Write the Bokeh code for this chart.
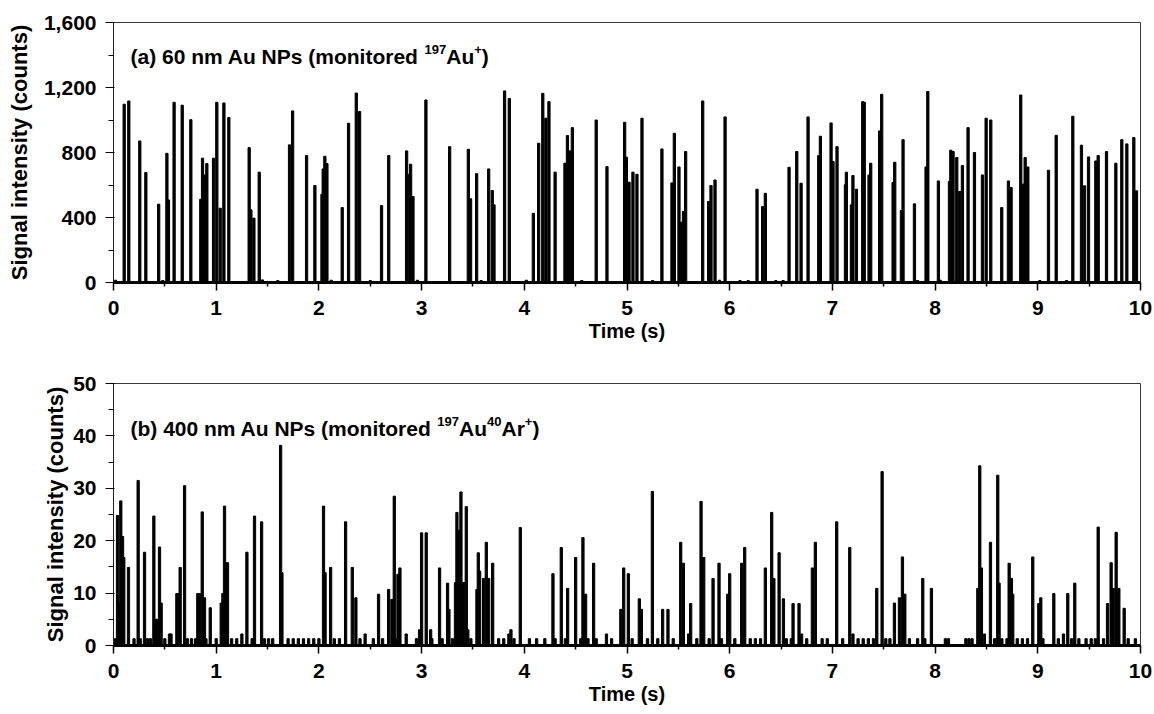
from bokeh.plotting import figure
from bokeh.layouts import column
from bokeh.models import FixedTicker, NumeralTickFormatter, Label
from bokeh.embed import file_html
from bokeh.resources import INLINE

# ---------------- data ----------------
# Panel (a): 60 nm Au NPs, monitored 197Au+
a_time = [0.104, 0.149, 0.256, 0.315, 0.440, 0.520, 0.535, 0.590, 0.669, 0.753,
          0.850, 0.867, 0.886, 0.909, 0.974, 1.006, 1.039, 1.075, 1.123, 1.321,
          1.338, 1.367, 1.419, 1.714, 1.744, 1.880, 1.961, 2.030, 2.042, 2.058,
          2.078, 2.227, 2.289, 2.364, 2.396, 2.610, 2.680, 2.854, 2.880, 2.893,
          2.916, 3.042, 3.273, 3.455, 3.477, 3.536, 3.653, 3.688, 3.705, 3.808,
          3.854, 4.088, 4.140, 4.180, 4.210, 4.240, 4.300, 4.396, 4.420, 4.445,
          4.468, 4.700, 4.805, 4.977, 4.994, 5.020, 5.058, 5.097, 5.146, 5.340,
          5.438, 5.461, 5.506, 5.526, 5.550, 5.571, 5.737, 5.795, 5.818, 5.857,
          5.955, 6.266, 6.321, 6.347, 6.578, 6.653, 6.695, 6.763, 6.867, 6.883,
          6.987, 7.006, 7.045, 7.127, 7.136, 7.185, 7.200, 7.234, 7.295, 7.310,
          7.357, 7.373, 7.460, 7.480, 7.591, 7.607, 7.672, 7.688, 7.799, 7.912,
          7.929, 8.032, 8.140, 8.153, 8.175, 8.211, 8.240, 8.266, 8.321, 8.383,
          8.461, 8.497, 8.542, 8.649, 8.714, 8.740, 8.834, 8.857, 8.877, 8.903,
          9.104, 9.179, 9.341, 9.425, 9.455, 9.494, 9.565, 9.588, 9.669, 9.760,
          9.818, 9.867, 9.935, 9.961]
a_counts = [1097, 1117, 871, 677, 482, 795, 508, 1109, 1091, 1002,
            512, 765, 662, 732, 765, 1109, 457, 1105, 1015, 830,
            447, 396, 679, 847, 1056, 781, 597, 543, 699, 777,
            732, 461, 980, 1166, 1052, 474, 781, 810, 666, 728,
            529, 1123, 836, 820, 515, 670, 699, 566, 478, 1179,
            1132, 426, 857, 1164, 1011, 1113, 679, 734, 904, 810,
            953, 1000, 713, 986, 771, 617, 679, 666, 1011, 822,
            613, 918, 711, 371, 437, 806, 1117, 498, 597, 631,
            1019, 574, 467, 549, 709, 806, 611, 1019, 781, 900,
            982, 744, 836, 601, 679, 478, 658, 574, 1113, 1109,
            662, 734, 933, 1158, 615, 740, 443, 879, 484, 711,
            1175, 625, 621, 814, 806, 769, 560, 720, 953, 800,
            662, 1011, 1000, 461, 625, 584, 1154, 605, 769, 711,
            691, 906, 1023, 845, 595, 773, 748, 781, 806, 734,
            879, 853, 892, 564]
a_small_time = [0.02, 0.48, 1.45, 1.60, 2.12, 2.50, 2.96, 3.58, 4.02, 4.56,
                5.25, 5.90, 6.10, 6.18, 6.45, 6.52, 7.83, 8.05, 9.02, 9.28]
a_small_counts = [14, 12, 16, 12, 14, 12, 14, 12, 14, 12,
                  12, 14, 12, 12, 12, 12, 12, 14, 12, 12]

# Panel (b): 400 nm Au NPs, monitored 197Au40Ar+
b_time = [0.039, 0.055, 0.071, 0.088, 0.100, 0.146, 0.240, 0.302, 0.393, 0.412,
          0.430, 0.448, 0.464, 0.545, 0.617, 0.633, 0.649, 0.692, 0.821, 0.837,
          0.864, 0.886, 0.942, 1.049, 1.065, 1.081, 1.094, 1.110, 1.299, 1.373,
          1.442, 1.627, 1.640, 2.045, 2.060, 2.114, 2.260, 2.325, 2.360, 2.581,
          2.679, 2.711, 2.734, 2.770, 2.789, 2.980, 3.000, 3.045, 3.088, 3.175,
          3.253, 3.266, 3.330, 3.344, 3.360, 3.383, 3.410, 3.435, 3.450, 3.539,
          3.552, 3.565, 3.604, 3.630, 3.653, 3.692, 3.870, 3.961, 4.279, 4.360,
          4.422, 4.500, 4.571, 4.597, 4.675, 4.940, 4.968, 5.013, 5.120, 5.140,
          5.247, 5.347, 5.399, 5.523, 5.549, 5.620, 5.721, 5.747, 5.838, 5.896,
          5.981, 6.000, 6.117, 6.146, 6.347, 6.409, 6.430, 6.481, 6.523, 6.617,
          6.675, 6.805, 6.834, 7.042, 7.169, 7.432, 7.484, 7.604, 7.653, 7.682,
          7.705, 7.880, 7.964, 8.416, 8.435, 8.451, 8.539, 8.610, 8.623, 8.721,
          8.743, 8.756, 8.951, 9.010, 9.029, 9.156, 9.292, 9.360, 9.588, 9.679,
          9.714, 9.734, 9.763, 9.789, 9.841]
b_counts = [24.8, 8.1, 27.6, 20.8, 16.8, 14.9, 31.5, 17.8, 24.7, 5.0,
            5.0, 18.8, 8.1, 2.2, 9.9, 9.9, 14.9, 30.5, 9.9, 9.9,
            25.5, 9.1, 7.2, 8.1, 9.9, 26.6, 15.8, 15.8, 17.8, 24.7,
            23.6, 38.2, 13.9, 26.6, 13.9, 14.9, 23.6, 14.9, 9.1, 9.8,
            10.7, 8.8, 28.5, 13.6, 14.8, 3.0, 21.5, 21.5, 3.0, 14.8,
            11.9, 6.9, 12.0, 25.4, 22.0, 29.3, 12.0, 26.5, 3.0, 10.7,
            17.7, 14.2, 12.8, 19.7, 12.8, 15.7, 3.0, 22.5, 13.7, 18.7,
            10.9, 16.8, 20.6, 9.8, 15.7, 6.9, 14.8, 13.7, 8.9, 6.9,
            29.4, 6.9, 6.9, 19.7, 15.7, 8.0, 27.5, 16.8, 12.8, 15.7,
            9.8, 13.7, 15.7, 18.7, 14.8, 25.4, 12.8, 17.7, 8.9, 8.0,
            8.0, 14.8, 19.7, 23.6, 18.7, 10.9, 33.2, 8.1, 9.1, 16.9,
            9.8, 12.8, 10.9, 10.9, 34.3, 14.8, 19.7, 32.5, 11.9, 15.7,
            12.8, 9.8, 16.9, 8.0, 9.1, 9.9, 9.9, 11.9, 22.6, 8.0,
            15.8, 10.9, 21.6, 10.9, 7.1]
b_small_time = [0.02, 0.20, 0.26, 0.33, 0.36, 0.50, 0.56, 0.72, 0.76, 0.80,
                0.90, 1.00, 1.15, 1.20, 1.25, 1.35, 1.47, 1.51, 1.55, 1.70,
                1.75, 1.80, 1.85, 1.90, 1.95, 2.00, 2.15, 2.20, 2.40, 2.45,
                2.53, 2.62, 2.75, 2.85, 2.95, 3.10, 3.20, 3.30, 3.48, 3.75,
                3.80, 3.85, 3.90, 4.05, 4.12, 4.20, 4.30, 4.40, 4.55, 4.62,
                4.70, 4.80, 4.85, 5.05, 5.20, 5.30, 5.45, 5.60, 5.68, 5.80,
                5.92, 6.05, 6.20, 6.25, 6.30, 6.55, 6.60, 6.70, 6.75, 6.90,
                6.95, 7.10, 7.20, 7.25, 7.30, 7.35, 7.40, 7.52, 7.56, 7.75,
                7.83, 7.90, 8.10, 8.13, 8.30, 8.33, 8.36, 8.48, 8.58, 8.65,
                8.70, 8.80, 8.85, 8.90, 9.05, 9.20, 9.25, 9.33, 9.40, 9.47,
                9.52, 9.56, 9.64, 9.88, 9.95]
b_small_counts = [1.3, 1.3, 1.3, 1.3, 1.3, 1.3, 2.2, 1.3, 1.3, 1.3,
                  1.3, 1.3, 1.3, 1.3, 2.2, 1.3, 1.3, 1.3, 1.3, 1.3,
                  1.3, 1.3, 1.3, 1.3, 1.3, 1.3, 1.3, 1.3, 1.3, 2.2,
                  1.3, 1.3, 1.3, 2.2, 1.3, 1.3, 1.3, 1.3, 1.3, 1.3,
                  1.3, 2.2, 1.3, 1.3, 1.3, 1.3, 1.3, 1.3, 1.3, 1.3,
                  1.3, 2.2, 1.3, 1.3, 1.3, 1.3, 1.3, 2.2, 1.3, 1.3,
                  1.3, 1.3, 1.3, 1.3, 1.3, 1.3, 1.3, 2.2, 1.3, 1.3,
                  1.3, 1.3, 2.2, 1.3, 1.3, 1.3, 1.3, 1.3, 1.3, 1.3,
                  1.3, 1.3, 1.3, 1.3, 1.3, 1.3, 1.3, 2.2, 1.3, 1.3,
                  1.3, 1.3, 1.3, 1.3, 1.3, 1.3, 2.2, 1.3, 1.3, 1.3,
                  1.3, 1.3, 1.3, 1.3, 1.3]

x_ticks = [0, 1, 2, 3, 4, 5, 6, 7, 8, 9, 10]
x_minor = [0.5, 1.5, 2.5, 3.5, 4.5, 5.5, 6.5, 7.5, 8.5, 9.5]
a_yticks = [0, 400, 800, 1200, 1600]
a_yminor = [200, 600, 1000, 1400]
b_yticks = [0, 10, 20, 30, 40, 50]
b_yminor = [5, 15, 25, 35, 45]

# title pieces: (text, is_superscript)
a_title = [("(a) 60 nm Au NPs (monitored ", False), ("197", True), ("Au", False),
           ("+", True), (")", False)]
b_title = [("(b) 400 nm Au NPs (monitored ", False), ("197", True), ("Au", False),
           ("40", True), ("Ar", False), ("+", True), (")", False)]
x_label = "Time (s)"
y_label = "Signal intensity (counts)"

FONT = "Liberation Sans"
BAR_W = 0.022
MAIN_PX = 21
SUP_PX = 13

# Arial/Liberation Sans Bold advance widths (1/1000 em), for laying out title pieces
ADV = {" ": 278, "(": 333, ")": 333, "+": 584, "a": 556, "b": 611, "d": 611,
       "e": 556, "i": 278, "m": 889, "n": 611, "o": 611, "r": 389, "s": 556,
       "t": 333, "u": 611, "A": 722, "N": 722, "P": 667}


def text_width(s, px):
    return sum(ADV.get(ch, 556) for ch in s) * px / 1000.0


def add_title(p, pieces, x0, y_base):
    x = x0
    for txt, sup in pieces:
        size = SUP_PX if sup else MAIN_PX
        y = y_base + (7 if sup else 0)
        p.add_layout(Label(x=x, y=y, x_units="screen", y_units="screen",
                           text=txt, text_font=FONT, text_font_style="bold",
                           text_font_size=f"{size}px", text_color="black",
                           text_align="left", text_baseline="alphabetic"))
        x += text_width(txt, size)


def make_panel(height, b_top, b_bottom, ymax, yticks, yminor,
               t, c, st, sc, title, title_base, ylab_standoff):
    p = figure(width=1154, height=height, x_range=(0, 10), y_range=(0, ymax),
               output_backend="svg", toolbar_location=None,
               min_border_left=113, min_border_right=14,
               min_border_top=b_top, min_border_bottom=b_bottom)
    p.xgrid.visible = False
    p.ygrid.visible = False
    p.outline_line_color = "#3a3a3a"
    p.outline_line_width = 1
    p.background_fill_color = "white"
    p.border_fill_color = "white"

    p.vbar(x=st, top=sc, width=BAR_W, bottom=0, color="black")
    p.vbar(x=t, top=c, width=BAR_W, bottom=0, color="black")

    xa = p.xaxis[0]
    xa.ticker = FixedTicker(ticks=x_ticks, minor_ticks=x_minor)
    xa.axis_line_width = 3
    xa.axis_line_color = "black"
    xa.major_tick_out = 8
    xa.major_tick_in = 0
    xa.minor_tick_out = 4
    xa.minor_tick_in = 0
    xa.major_tick_line_width = 1.5
    xa.minor_tick_line_width = 1.5
    xa.major_label_standoff = 10
    xa.major_label_text_font = FONT
    xa.major_label_text_font_style = "bold"
    xa.major_label_text_font_size = "21px"
    xa.major_label_text_color = "black"
    xa.axis_label = x_label
    xa.axis_label_standoff = 2
    xa.axis_label_text_font = FONT
    xa.axis_label_text_font_style = "bold"
    xa.axis_label_text_font_size = "20px"
    xa.axis_label_text_color = "black"

    ya = p.yaxis[0]
    ya.ticker = FixedTicker(ticks=yticks, minor_ticks=yminor)
    ya.formatter = NumeralTickFormatter(format="0,0")
    ya.axis_line_width = 1
    ya.axis_line_color = "#222222"
    ya.major_tick_out = 8
    ya.major_tick_in = 1
    ya.minor_tick_out = 5
    ya.minor_tick_in = 0
    ya.major_tick_line_width = 1.2
    ya.minor_tick_line_width = 1.2
    ya.major_label_standoff = 9
    ya.major_label_text_font = FONT
    ya.major_label_text_font_style = "bold"
    ya.major_label_text_font_size = "21px"
    ya.major_label_text_color = "black"
    ya.axis_label = y_label
    ya.axis_label_standoff = ylab_standoff
    ya.axis_label_text_font = FONT
    ya.axis_label_text_font_style = "bold"
    ya.axis_label_text_font_size = "22px"
    ya.axis_label_text_color = "black"

    add_title(p, title, 17, title_base)
    return p


pa = make_panel(360, 22, 78, 1600, a_yticks, a_yminor,
                a_time, a_counts, a_small_time, a_small_counts,
                a_title, 226, 9)
pb = make_panel(354, 23, 69, 50, b_yticks, b_yminor,
                b_time, b_counts, b_small_time, b_small_counts,
                b_title, 217, 2)

layout = column(pa, pb, spacing=0)
open("out.html", "w").write(file_html(layout, INLINE))
